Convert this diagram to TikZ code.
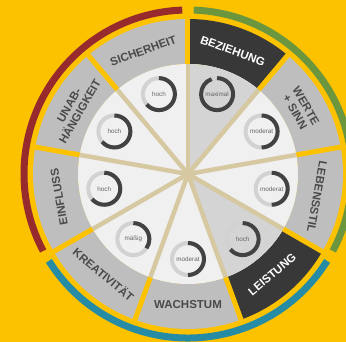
\documentclass[tikz,border=0pt]{standalone}
\usepackage{fontspec}
\setmainfont{Liberation Sans}
\usepackage{xcolor}
\usetikzlibrary{arrows}

\definecolor{bgyellow}{RGB}{252,194,0}
\definecolor{ringred}{RGB}{150,42,44}
\definecolor{ringgreen}{RGB}{108,150,62}
\definecolor{ringblue}{RGB}{38,140,165}
\definecolor{bandgray}{RGB}{190,190,190}
\definecolor{banddark}{RGB}{56,56,56}
\definecolor{diskwhite}{RGB}{240,240,240}
\definecolor{diskgray}{RGB}{212,212,212}
\definecolor{spoketan}{RGB}{214,200,160}
\definecolor{labelgray}{RGB}{74,74,74}
\definecolor{gaugelight}{RGB}{210,210,210}
\definecolor{gaugedark}{RGB}{66,66,66}

\begin{document}
\begin{tikzpicture}
		[x=1pt,y=1pt,every node/.style={inner sep=0pt,align=center,text=labelgray,font=\bfseries\fontsize{11.5}{12.5}\selectfont},
		gaugetext/.style={font=\fontsize{6.3}{7}\selectfont,text=labelgray!85},
		spoke/.style={spoketan,line width=4.5pt},
		gap/.style={bgyellow,line width=5pt},
		ring/.style={line width=7pt}]
		\clip (-188,-168) rectangle (158,174);
		\fill[bgyellow] (-188,-168) rectangle (158,174);
		
		% outer rings
		\draw[ring,ringred] (92:164) arc (92:208:164);
		\draw[ring,ringgreen] (88:164) arc (88:-28:164);
		\draw[ring,ringblue] (-32:164) arc (-32:-148:164);
		
		% segments and inner disk
		\foreach \a/\col in {90/bandgray,50/banddark,10/bandgray,-30/bandgray,-70/banddark,-110/bandgray,-150/bandgray,170/bandgray,130/bandgray}
		\fill[\col] (\a:110) arc (\a:\a+40:110) -- (\a+40:155) arc (\a+40:\a:155) -- cycle;
		\fill[diskwhite] (0,0) circle (110);
		\foreach \a in {50,-70}
		\fill[diskgray] (0,0) -- (\a:110) arc (\a:\a+40:110) -- cycle;
		
		% spokes
		\coordinate (c) at (0,0);
		\foreach \a [count=\i] in {90,50,10,-30,-70,-110,-150,170,130}{
			\coordinate (b\i) at (\a:110);
			\coordinate (e\i) at (\a:157);
		}
		\foreach \i in {1,...,9}{
			\draw[gap] (b\i) -- (e\i);
			\draw[spoke] (c) -- (b\i);
		}
		
		% labels
		\node[rotate=20] (sich) at (110:131) {SICHERHEIT};
		\node[rotate=-20,text=white] (bez) at (70:131) {BEZIEHUNG};
		\node[rotate=-60] (wert) at (30:130) {WERTE\\+ SINN};
		\node[rotate=-100] (leb) at (-10:131) {LEBENSSTIL};
		\node[rotate=40,text=white] (leis) at (-50:131) {LEISTUNG};
		\node (wach) at (-90:131) {WACHSTUM};
		\node[rotate=-40] (krea) at (-130:131) {KREATIVITÄT};
		\node[rotate=100] (einf) at (190:131) {EINFLUSS};
		\node[rotate=60] (unab) at (150:131) {UNAB-\\HÄNGIGKEIT};
		
		% gauges
		\foreach \gid/\a/\lvl/\txt in {sich/110/230/hoch,bez/70/340/maximal,wert/30/180/moderat,leb/-10/180/moderat,leis/-50/230/hoch,wach/-90/180/moderat,krea/-130/125/mäßig,einf/190/230/hoch,unab/150/230/hoch}{
			\node[gaugetext] (g\gid) at (\a:85) {\txt};
			\draw[gaugelight,line width=4pt] (g\gid.center) circle (16);
			\draw[gaugedark,line width=4pt] ([shift={(90:16)}]g\gid.center) arc (90:90-\lvl:16);
		}
		\end{tikzpicture}
\end{document}
